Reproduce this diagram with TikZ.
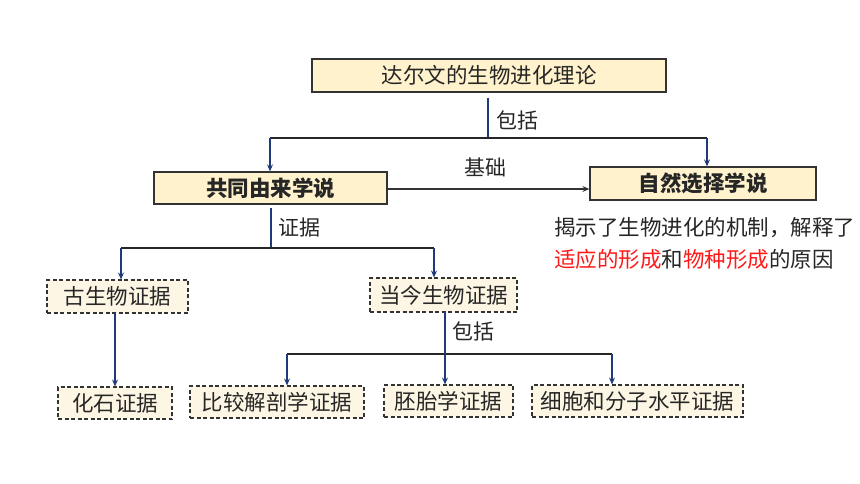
\documentclass[tikz,border=0pt]{standalone}
\usepackage{fontspec}
\setmainfont{Noto Sans CJK SC}
\usetikzlibrary{arrows.meta,calc}
\definecolor{navy}{HTML}{1F3A78}
\definecolor{solidfill}{HTML}{FFF2CC}
\definecolor{dashfill}{HTML}{FEF6E4}
\definecolor{edge}{HTML}{333333}
\definecolor{txt}{HTML}{262626}
\definecolor{redtxt}{HTML}{FF1A1A}
\begin{document}
\begin{tikzpicture}[x=1pt,y=-1pt,
  every node/.style={font=\fontsize{21.5}{25}\selectfont, text=txt, inner sep=0pt},
  solidbox/.style={draw=edge, line width=1.3pt, fill=solidfill, minimum height=33pt},
  dashbox/.style={draw=edge, line width=1.1pt, dash pattern=on 4pt off 2.5pt, fill=dashfill, minimum height=32pt},
  stem/.style={draw=navy, line width=1.1pt},
  bar/.style={draw=black!85, line width=1.1pt},
  arr/.style={draw=navy, line width=1.1pt, -{Stealth[length=7pt,width=6pt,inset=2.5pt]}},
  darr/.style={draw=edge, line width=1.1pt, -{Stealth[length=7pt,width=6pt,inset=2.5pt]}},
  lbl/.style={font=\fontsize{21}{24}\selectfont}
]
\useasboundingbox (0,0) rectangle (860,484);
\fill[white] (0,0) rectangle (860,484);

% nodes
\node[solidbox, minimum width=354pt] (top) at (489,75.5) {达尔文的生物进化理论};
\node[solidbox, minimum width=233pt, minimum height=32pt] (common) at (270.5,188) {\bfseries 共同由来学说};
\node[solidbox, minimum width=226pt] (natsel) at (703,183.5) {\bfseries 自然选择学说};
\node[dashbox, minimum width=141pt, minimum height=33pt] (gu) at (117.5,296.5) {古生物证据};
\node[dashbox, minimum width=147pt, minimum height=34pt] (dang) at (443.5,295) {当今生物证据};
\node[dashbox, minimum width=114pt] (fossil) at (115,403) {化石证据};
\node[dashbox, minimum width=174pt] (comp) at (277,402) {比较解剖学证据};
\node[dashbox, minimum width=129pt] (embryo) at (448.5,401) {胚胎学证据};
\node[dashbox, minimum width=211pt] (cell) at (637.5,401) {细胞和分子水平证据};

% description text
\node[anchor=west, align=left, font=\fontsize{21.5}{32}\selectfont] (desc) at (554,243)
  {揭示了生物进化的机制，解释了\\{\color{redtxt}适应的形成}和{\color{redtxt}物种形成}的原因};

% junction coordinates
\coordinate (s1) at (488,98);
\coordinate (j1) at (488,138);
\coordinate (j1l) at (270,138);
\coordinate (j1r) at (707,138);
\coordinate (s2) at (271,208);
\coordinate (j2) at (271,248);
\coordinate (j2l) at (121,248);
\coordinate (j2r) at (434,248);
\coordinate (s3) at (115,313);
\coordinate (s4) at (445,312);
\coordinate (j4) at (445,354);
\coordinate (j4l) at (287,354);
\coordinate (j4r) at (612,354);

% level 1
\draw[stem] (s1) -- (j1);
\draw[bar] (j1l) -- (j1r);
\draw[arr] (j1l) -- (j1l |- common.north);
\draw[arr] (j1r) -- (j1r |- natsel.north);
\node[lbl] (l1) at (517.5,120) {包括};

% base arrow
\draw[darr] (common.east |- 0,189) -- (natsel.west |- 0,189);
\node[lbl] (l2) at (485,167) {基础};

% level 2
\draw[stem] (s2) -- (j2);
\draw[bar] (j2l) -- (j2r);
\draw[arr] (j2l) -- (j2l |- gu.north);
\draw[arr] (j2r) -- (j2r |- dang.north);
\node[lbl] (l3) at (299.5,228) {证据};

% fossil
\draw[arr] (s3) -- (s3 |- fossil.north);

% level 3
\draw[bar] (j4l) -- (j4r);
\draw[arr] (s4) -- (s4 |- embryo.north);
\draw[arr] (j4l) -- (j4l |- comp.north);
\draw[arr] (j4r) -- (j4r |- cell.north);
\node[lbl] (l4) at (473.5,331) {包括};
\end{tikzpicture}
\end{document}
